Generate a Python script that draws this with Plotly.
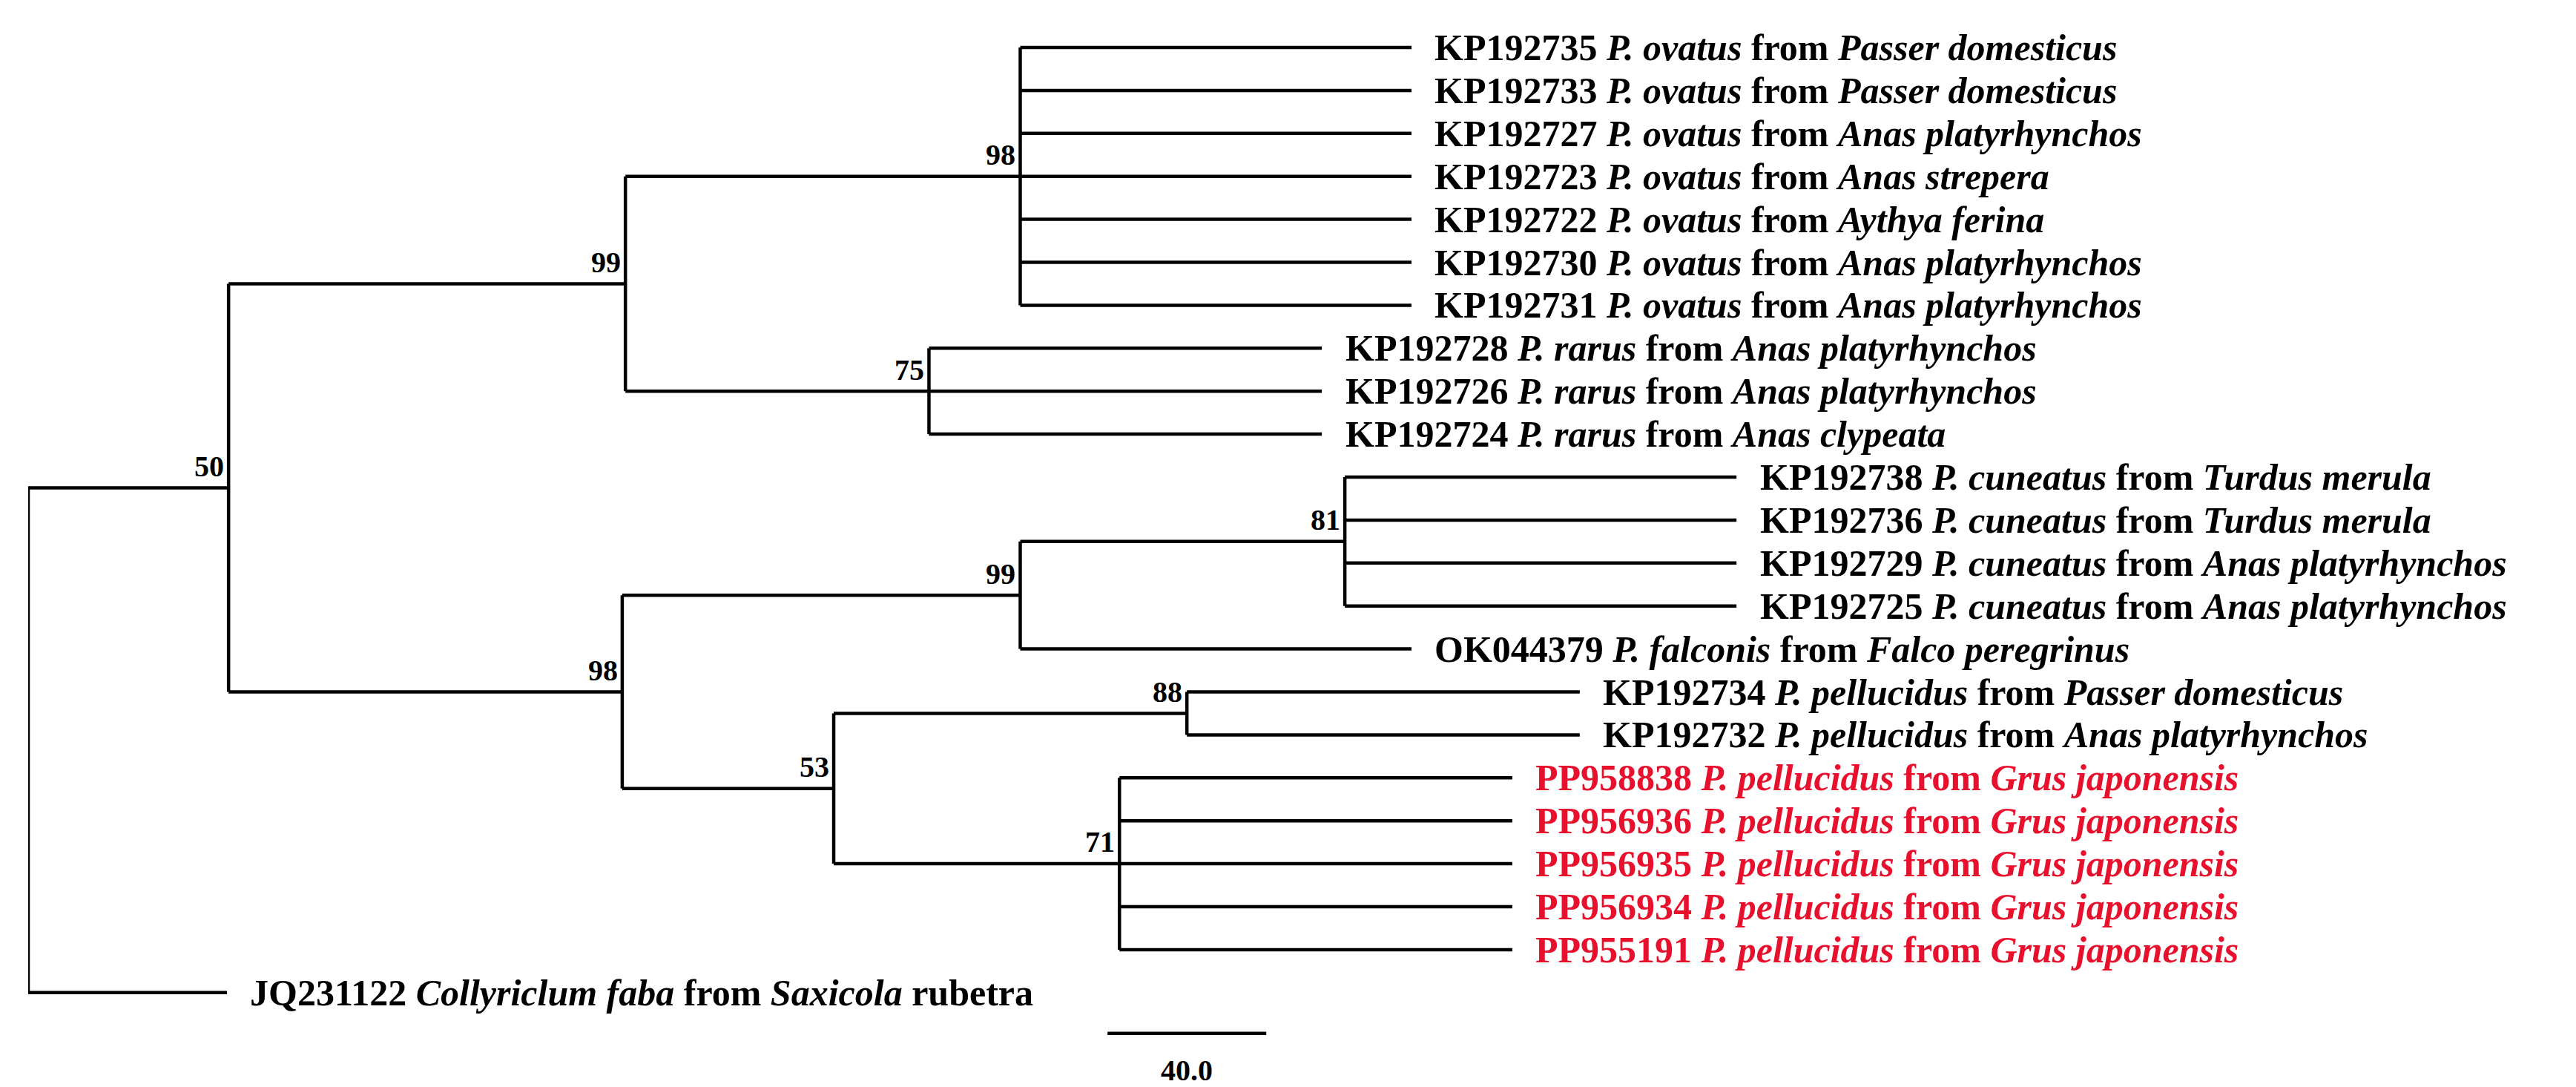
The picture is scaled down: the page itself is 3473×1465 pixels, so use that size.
import plotly.graph_objects as go

# ---- data ----
tip_ids = ["KP192735","KP192733","KP192727","KP192723","KP192722","KP192730","KP192731",
           "KP192728","KP192726","KP192724",
           "KP192738","KP192736","KP192729","KP192725","OK044379",
           "KP192734","KP192732",
           "PP958838","PP956936","PP956935","PP956934","PP955191","JQ231122"]
tip_species = ["P. ovatus"]*7 + ["P. rarus"]*3 + ["P. cuneatus"]*4 + ["P. falconis"] + \
              ["P. pellucidus"]*7 + ["Collyriclum faba"]
tip_hosts = ["Passer domesticus","Passer domesticus","Anas platyrhynchos","Anas strepera","Aythya ferina",
             "Anas platyrhynchos","Anas platyrhynchos","Anas platyrhynchos","Anas platyrhynchos","Anas clypeata",
             "Turdus merula","Turdus merula","Anas platyrhynchos","Anas platyrhynchos","Falco peregrinus",
             "Passer domesticus","Anas platyrhynchos"] + ["Grus japonensis"]*5 + ["Saxicola"]
tip_x = [348.6]*7 + [326]*3 + [430.5]*4 + [348.6] + [391]*2 + [374]*5 + [50.1]
tip_red = [False]*17 + [True]*5 + [False]

# internal nodes: name, x position (cumulative branch length), support, children
node_names = ["root","n50","n99a","n98a","n75","n98b","n99b","n81","n53","n88","n71"]
node_x = [0, 50.5, 150.5, 250, 227, 149.7, 250, 331.8, 203, 292, 275]
node_support = ["", "50", "99", "98", "75", "98", "99", "81", "53", "88", "71"]
node_children = [["n50", 22], ["n99a", "n98b"], ["n98a", "n75"], [0,1,2,3,4,5,6], [7,8,9],
                 ["n99b", "n53"], ["n81", 14], [10,11,12,13], ["n88", "n71"], [15,16], [17,18,19,20,21]]
scale_value = 40.0
scale_start = 272

RED = "#e8112d"
nx = dict(zip(node_names, node_x))
ch = dict(zip(node_names, node_children))
sup = dict(zip(node_names, node_support))
ny = {}

def ypos(c):
    if isinstance(c, int):
        return c
    if c not in ny:
        ys = [ypos(k) for k in ch[c]]
        ny[c] = (ys[0] + ys[-1]) / 2
    return ny[c]

def xpos(c):
    return tip_x[c] if isinstance(c, int) else nx[c]

xs, ys = [], []
for n in node_names:
    kids = ch[n]
    ky = [ypos(k) for k in kids]
    xs += [nx[n], nx[n], None]; ys += [min(ky), max(ky), None]
    for k in kids:
        xs += [nx[n], xpos(k), None]; ys += [ypos(k), ypos(k), None]

fig = go.Figure()
fig.add_trace(go.Scatter(x=xs, y=ys, mode="lines", line=dict(color="black", width=4.5),
                         hoverinfo="skip", showlegend=False))
fig.add_trace(go.Scatter(x=[scale_start, scale_start + scale_value], y=[22.95, 22.95], mode="lines",
                         line=dict(color="black", width=4.5), hoverinfo="skip", showlegend=False))

FONT = "Liberation Serif, Times New Roman, serif"
ann = []
for i, tid in enumerate(tip_ids):
    if tid == "JQ231122":
        txt = f"<b>{tid} <i>{tip_species[i]}</i> from <i>{tip_hosts[i]}</i> rubetra</b>"
    else:
        txt = f"<b>{tid} <i>{tip_species[i]}</i> from <i>{tip_hosts[i]}</i></b>"
    ann.append(dict(x=tip_x[i] + 5.5, y=i, text=txt, showarrow=False, xanchor="left", yanchor="middle",
                    font=dict(family=FONT, size=50, color=RED if tip_red[i] else "black")))
for n in node_names:
    if sup[n]:
        ann.append(dict(x=nx[n] - 0.8, y=ypos(n) - 0.08, text=f"<b>{sup[n]}</b>", showarrow=False,
                        xanchor="right", yanchor="bottom",
                        font=dict(family=FONT, size=40, color="black")))
ann.append(dict(x=scale_start + scale_value / 2, y=23.8, text=f"<b>{scale_value:.1f}</b>", showarrow=False,
                xanchor="center", yanchor="middle", font=dict(family=FONT, size=40, color="black")))

fig.update_layout(width=3473, height=1465, margin=dict(l=30, r=0, t=0, b=0),
                  plot_bgcolor="white", paper_bgcolor="white", annotations=ann,
                  xaxis=dict(range=[0, 3443 / 5.35], visible=False),
                  yaxis=dict(range=[(1465 - 56) / 57.9, -56 / 57.9], visible=False))
fig.write_html("out.html")
